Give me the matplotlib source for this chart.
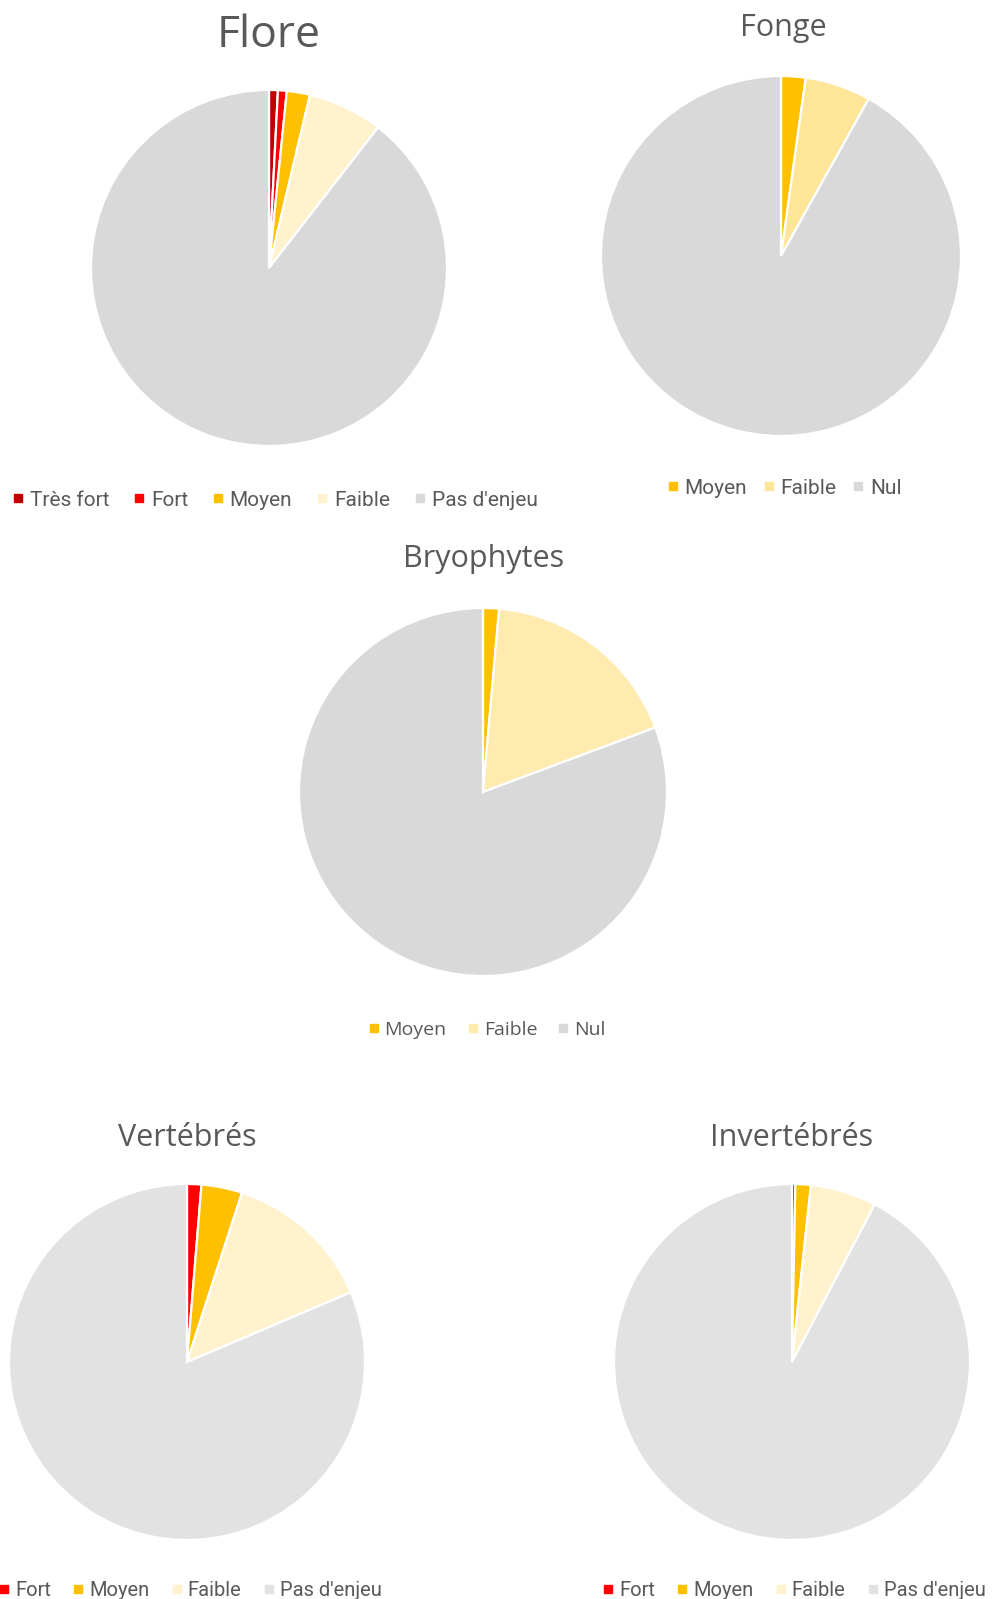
import matplotlib
matplotlib.use('Agg')
import matplotlib.pyplot as plt
from matplotlib.lines import Line2D
from matplotlib import font_manager

W, H = 992, 1599

# Données (parts en %)
flore_labels = ['Très fort', 'Fort', 'Moyen', 'Faible', "Pas d'enjeu"]
flore_values = [0.8, 0.8, 2.1, 6.8, 89.5]
fonge_labels = ['Moyen', 'Faible', 'Nul']
fonge_values = [2.2, 5.9, 91.9]
bryo_labels = ['Moyen', 'Faible', 'Nul']
bryo_values = [1.4, 17.9, 80.7]
vert_labels = ['Fort', 'Moyen', 'Faible', "Pas d'enjeu"]
vert_values = [1.3, 3.7, 13.6, 81.4]
invert_labels = ['Fort', 'Moyen', 'Faible', "Pas d'enjeu"]
invert_values = [0.3, 1.4, 6.0, 92.3]

# Couleurs
flore_colors = ['#C00000', '#FF0000', '#FFC000', '#FFF2CC', '#D9D9D9']
fonge_colors = ['#FFC000', '#FFE699', '#D9D9D9']
bryo_colors = ['#FFC000', '#FFEAAF', '#D9D9D9']
vert_colors = ['#FF0000', '#FFC000', '#FFF2CC', '#E2E2E2']
invert_colors = ['#FF0000', '#FFC000', '#FFF2CC', '#E2E2E2']

GRIS = '#595959'


def police(noms):
    for n in noms:
        try:
            font_manager.findfont(n, fallback_to_default=False)
            return n
        except Exception:
            pass
    return 'DejaVu Sans'


titre_font = police(['Open Sans', 'Noto Sans'])
narrow_font = police(['Roboto', 'Liberation Sans Narrow'])
large_font = police(['Open Sans', 'Noto Sans'])

fig = plt.figure(figsize=(W / 100, H / 100), dpi=100)


def camembert(cx, cy, r, valeurs, couleurs):
    ax = fig.add_axes([(cx - r) / W, 1 - (cy + r) / H, 2 * r / W, 2 * r / H])
    ax.pie(valeurs, colors=couleurs, startangle=90, counterclock=False,
           radius=1, wedgeprops={'edgecolor': 'white', 'linewidth': 1.6})
    ax.set_xlim(-1.0, 1.0)
    ax.set_ylim(-1.0, 1.0)
    ax.set_aspect('equal')
    ax.axis('off')


def titre(x, y, texte, taille):
    fig.text(x / W, 1 - y / H, texte, ha='center', va='center',
             fontsize=taille, color=GRIS, family=titre_font)


def legende(x, y, labels, couleurs, famille, taille, espace):
    handles = [Line2D([], [], marker='s', linestyle='none', markersize=5.5,
                      markerfacecolor=c, markeredgecolor=c) for c in couleurs]
    leg = fig.legend(handles, labels, loc='center left',
                     bbox_to_anchor=(x / W, 1 - y / H), ncol=len(labels),
                     frameon=False, handlelength=0.5, handletextpad=0.3,
                     columnspacing=espace, borderpad=0, borderaxespad=0,
                     prop={'family': famille, 'size': taille})
    for t in leg.get_texts():
        t.set_color(GRIS)


# Flore
titre(269, 36, 'Flore', 32)
camembert(269, 268, 178, flore_values, flore_colors)
legende(13, 500, flore_labels, flore_colors, narrow_font, 15, 1.2)

# Fonge
titre(783, 28, 'Fonge', 22)
camembert(781, 256, 180, fonge_values, fonge_colors)
legende(668, 488, fonge_labels, fonge_colors, narrow_font, 15, 0.8)

# Bryophytes
titre(484, 559, 'Bryophytes', 22)
camembert(483, 792, 184, bryo_values, bryo_colors)
legende(369, 1030, bryo_labels, bryo_colors, large_font, 14, 1.1)

# Vertébrés
titre(187, 1138, 'Vertébrés', 22)
camembert(187, 1362, 178, vert_values, vert_colors)
legende(-1, 1591, vert_labels, vert_colors, narrow_font, 14.5, 1.1)

# Invertébrés
titre(792, 1138, 'Invertébrés', 22)
camembert(792, 1362, 178, invert_values, invert_colors)
legende(603, 1591, invert_labels, invert_colors, narrow_font, 14.5, 1.1)

fig.savefig('out.png', dpi=100, facecolor='white')
